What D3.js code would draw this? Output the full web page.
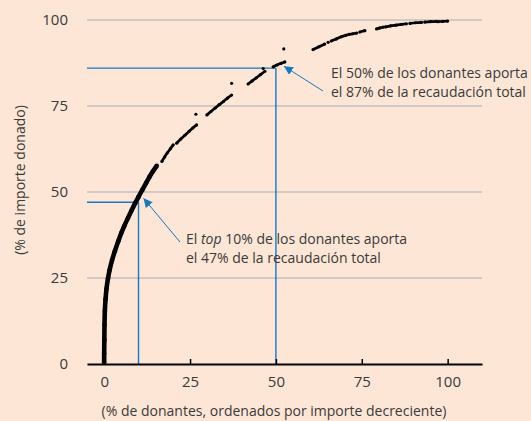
<!DOCTYPE html>
<html lang="es">
<head>
<meta charset="UTF-8">
<title>Curva de concentración de donantes</title>
<script src="https://cdn.jsdelivr.net/npm/d3@7"></script>
<style>
  body { margin: 0; background: #fde6d5; }
  svg { display: block; }
  text { font-family: "Open Sans", sans-serif; fill: #3a3a3a; }
</style>
</head>
<body>
<script>

    // % de donantes (ordenados por importe decreciente) y % acumulado del importe
    var donantes = [
        0, 0, 0.05, 0.1, 0.2, 0.4, 0.7, 1.1, 1.6, 2.3, 3.1, 4.1, 5.0, 5.8, 6.9, 8.0, 9.0, 10.0, 11.1, 12.2, 13.2, 14.2, 15.3,
        16.8, 17.6, 18.4, 19.3, 20.1,
        21.1, 22.3, 23.5, 24.7, 25.8, 26.9,
        26.7,
        29.9, 31.1, 32.3, 33.5, 34.7, 35.9, 37.1,
        37.1,
        41.9, 43.1, 44.3, 45.5, 46.8,
        46.3,
        49.2, 50.3, 51.5, 52.6,
        52.3,
        60.8, 62.5, 64.2,
        65.2,
        66.1, 67.6, 69.0, 70.5,
        71.2, 72.4, 73.5,
        74.4, 75.9,
        79.3, 80.3, 81.2,
        81.9, 83.4, 85.0, 86.5, 88.0,
        89.0, 90.7, 92.4,
        93.3, 95.0, 96.7,
        97.2, 98.6, 100
    ];
    var importe = [
        0.5, 3, 7, 11.5, 15.5, 18.8, 22.0, 24.8, 27.4, 30.2, 32.8, 35.7, 38.1, 40.0, 42.4, 44.7, 46.7, 48.6, 50.6, 52.6, 54.4, 56.0, 57.6,
        58.9, 60.2, 61.4, 62.6, 63.7,
        64.2, 65.4, 66.5, 67.6, 68.6, 69.5,
        72.6,
        72.4, 73.4, 74.4, 75.4, 76.3, 77.3, 78.2,
        81.6,
        81.4, 82.3, 83.2, 84.1, 85.1,
        85.9,
        86.4, 86.9, 87.4, 87.8,
        91.6,
        91.4, 92.2, 93.0,
        93.5,
        93.9, 94.5, 95.1, 95.6,
        95.8, 96.0, 96.2,
        96.5, 96.9,
        97.4, 97.7, 97.9,
        98.0, 98.3, 98.5, 98.7, 98.9,
        99.0, 99.2, 99.3,
        99.4, 99.5, 99.6,
        99.5, 99.6, 99.7
    ];
    // tramo de puntos contiguos
    var tramo = [
        0, 0, 0, 0, 0, 0, 0, 0, 0, 0, 0, 0, 0, 0, 0, 0, 0, 0, 0, 0, 0, 0, 0,
        1, 1, 1, 1, 1,
        2, 2, 2, 2, 2, 2,
        3,
        4, 4, 4, 4, 4, 4, 4,
        5,
        6, 6, 6, 6, 6,
        7,
        8, 8, 8, 8,
        9,
        10, 10, 10,
        11,
        12, 12, 12, 12,
        13, 13, 13,
        14, 14,
        15, 15, 15,
        16, 16, 16, 16, 16,
        17, 17, 17,
        18, 18, 18,
        19, 19, 19
    ];

    var xTicks = [0, 25, 50, 75, 100];
    var yTicks = [0, 25, 50, 75, 100];

    // líneas de referencia (x, y) y notas (entre * va en cursiva)
    var refX = [10, 50];
    var refY = [47, 86];
    var notas = [
        ["El *top* 10% de los donantes aporta", "el 47% de la recaudación total"],
        ["El 50% de los donantes aporta", "el 87% de la recaudación total"]
    ];

    var w = 531, h = 421;
    var mLeft = 87, mRight = 482, mTop = 20, mBottom = 364;

    var svg = d3.select("body").append("svg")
        .attr("width", w)
        .attr("height", h);

    svg.append("rect").attr("width", w).attr("height", h).attr("fill", "#fde6d5");

    var x = d3.scaleLinear().domain([-5, 110]).range([mLeft, mRight]);
    var y = d3.scaleLinear().domain([0, 100]).range([mBottom, mTop]);

    var blue = "#1479c2";

    // rejilla horizontal
    svg.selectAll(".grid")
        .data(yTicks.filter(function (d) { return d > 0; }))
        .enter().append("line")
        .attr("x1", mLeft).attr("x2", mRight)
        .attr("y1", function (d) { return y(d); })
        .attr("y2", function (d) { return y(d); })
        .attr("stroke", "#a5adb4")
        .attr("stroke-width", 1);

    // etiquetas eje y
    svg.selectAll(".ylab")
        .data(yTicks)
        .enter().append("text")
        .attr("x", 68)
        .attr("y", function (d) { return y(d); })
        .attr("dy", "0.36em")
        .attr("text-anchor", "end")
        .attr("font-size", "15px")
        .text(function (d) { return d; });

    // líneas de referencia azules
    refX.forEach(function (rx, i) {
        svg.append("line")
            .attr("x1", mLeft).attr("x2", x(rx))
            .attr("y1", y(refY[i])).attr("y2", y(refY[i]))
            .attr("stroke", blue).attr("stroke-width", 1.4);
        svg.append("line")
            .attr("x1", x(rx)).attr("x2", x(rx))
            .attr("y1", y(0)).attr("y2", y(refY[i]))
            .attr("stroke", blue).attr("stroke-width", 1.4);
    });

    // eje x
    var xAxis = d3.axisBottom(x).tickValues(xTicks).tickSize(0).tickPadding(12);
    var gx = svg.append("g")
        .attr("transform", "translate(0," + mBottom + ")")
        .call(xAxis);
    gx.select(".domain").attr("stroke", "#000").attr("stroke-width", 1.8);
    gx.selectAll(".tick text")
        .attr("font-family", "Open Sans, sans-serif")
        .attr("font-size", "15px")
        .attr("fill", "#3a3a3a")
        .attr("dy", "0.75em");
    gx.selectAll(".tick").append("line")
        .attr("y1", 0).attr("y2", -5)
        .attr("stroke", "#000").attr("stroke-width", 1.5);

    // puntos de la curva
    var puntos = donantes.map(function (d, i) {
        return { x: d, y: importe[i], t: tramo[i] };
    });
    var tramos = d3.groups(puntos, function (d) { return d.t; });
    var linea = d3.line()
        .x(function (d) { return x(d.x); })
        .y(function (d) { return y(d.y); })
        .curve(d3.curveCatmullRom);

    svg.selectAll(".tramo")
        .data(tramos.filter(function (g) { return g[1].length > 1; }))
        .enter().append("path")
        .attr("d", function (g) { return linea(g[1]); })
        .attr("fill", "none")
        .attr("stroke", "#000")
        .attr("stroke-width", function (g) { return g[0] === 0 ? 4.6 : 2.7; })
        .attr("stroke-linecap", "butt");

    svg.selectAll(".punto")
        .data(puntos)
        .enter().append("circle")
        .attr("cx", function (d) { return x(d.x); })
        .attr("cy", function (d) { return y(d.y); })
        .attr("r", function (d) { return d.t === 0 ? 2.3 : 1.6; })
        .attr("fill", "#000");

    // flechas
    svg.append("defs").append("marker")
        .attr("id", "punta")
        .attr("viewBox", "0 0 10 10")
        .attr("refX", 10).attr("refY", 5)
        .attr("markerWidth", 9).attr("markerHeight", 9)
        .attr("markerUnits", "userSpaceOnUse")
        .attr("orient", "auto")
        .append("path")
        .attr("d", "M0,0 L10,5 L0,10 Z")
        .attr("fill", blue);

    var flechas = [
        [180, 242, x(refX[0]) + 5, y(refY[0]) - 4],
        [323, 91, x(refX[1]) + 8, y(refY[1]) - 2]
    ];
    flechas.forEach(function (f) {
        svg.append("line")
            .attr("x1", f[0]).attr("y1", f[1])
            .attr("x2", f[2]).attr("y2", f[3])
            .attr("stroke", blue).attr("stroke-width", 1)
            .attr("marker-end", "url(#punta)");
    });

    // textos de las notas
    var posNotas = [[186, 244], [331, 78]];
    notas.forEach(function (n, i) {
        var t = svg.append("text")
            .attr("y", posNotas[i][1])
            .attr("font-size", "14px");
        n.forEach(function (txt, j) {
            var ts = t.append("tspan")
                .attr("x", posNotas[i][0])
                .attr("dy", j === 0 ? 0 : 18.7);
            txt.split("*").forEach(function (parte, k) {
                ts.append("tspan")
                    .attr("font-style", k % 2 ? "italic" : null)
                    .text(parte);
            });
        });
    });

    // títulos de ejes
    svg.append("text")
        .attr("x", 274)
        .attr("y", 416)
        .attr("text-anchor", "middle")
        .attr("font-size", "14px")
        .text("(% de donantes, ordenados por importe decreciente)");

    svg.append("text")
        .attr("transform", "translate(25,180) rotate(-90)")
        .attr("text-anchor", "middle")
        .attr("font-size", "14px")
        .text("(% de importe donado)");

</script>
</body>
</html>
